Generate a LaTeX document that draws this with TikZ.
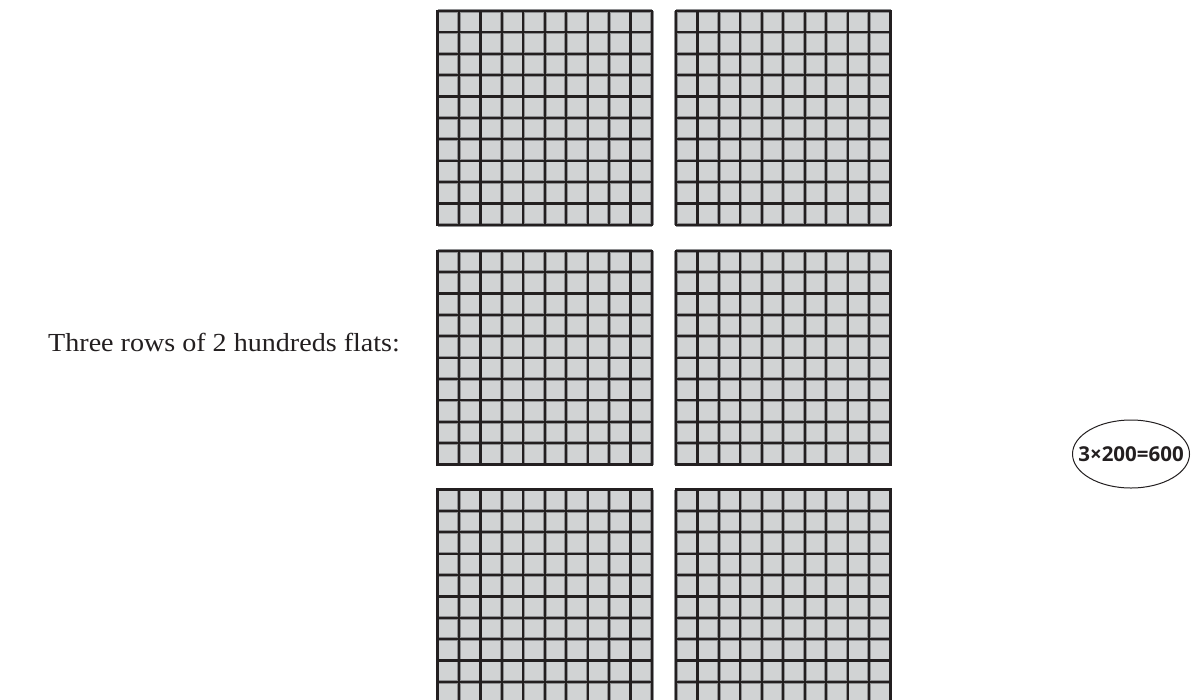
\documentclass[tikz,border=0pt]{standalone}
\usepackage{fontspec}
\setmainfont{Liberation Serif}
\newfontfamily\eqfont{Open Sans}
\usetikzlibrary{shapes.geometric}
\definecolor{cellgray}{HTML}{D1D3D4}
\definecolor{edgegray}{HTML}{8E8F91}
\definecolor{ink}{HTML}{231F20}
\tikzset{
  flatcell/.style={fill=cellgray, draw=none},
  halo/.style={draw=edgegray, line width=3.6pt},
  gridline/.style={draw=ink, line width=2.2pt, line cap=rect},
  caption/.style={font=\fontsize{26}{30}\selectfont, text=ink, inner sep=0pt, xscale=1.08},
  eqtext/.style={inner sep=0pt, font=\eqfont\bfseries\fontsize{20.5}{24}\selectfont, text=ink},
  eqring/.style={draw=ink, line width=1pt}
}
\newcommand{\hflat}[2]{%
  \fill[flatcell] (#1,#2) rectangle ++(214.5,213.8);
  \foreach \k in {0,...,10}{
    \draw[halo] ({#1+\k*21.45},#2) -- ++(0,213.8);
    \draw[halo] (#1,{#2+\k*21.38}) -- ++(214.5,0);
  }
  \foreach \k in {0,...,10}{
    \draw[gridline] ({#1+\k*21.45},#2) -- ++(0,213.8);
    \draw[gridline] (#1,{#2+\k*21.38}) -- ++(214.5,0);
  }
}
\begin{document}
\begin{tikzpicture}[x=1pt,y=-1pt]
\useasboundingbox (0,0) rectangle (1198,699);
\clip (0,0) rectangle (1198,699);
\fill[white] (0,0) rectangle (1198,699);
\hflat{437.5}{11}
\hflat{676}{11}
\hflat{437.5}{250.7}
\hflat{676}{250.7}
\hflat{437.5}{489.5}
\hflat{676}{489.5}
\node[caption, anchor=base west] (label) at (48,351.7) {Three rows of 2 hundreds flats:};
\node[eqtext] (eq) at (1131,454) {3×200=600};
\draw[eqring] (eq.center) ellipse [x radius=58.5pt, y radius=34pt];
\end{tikzpicture}
\end{document}
